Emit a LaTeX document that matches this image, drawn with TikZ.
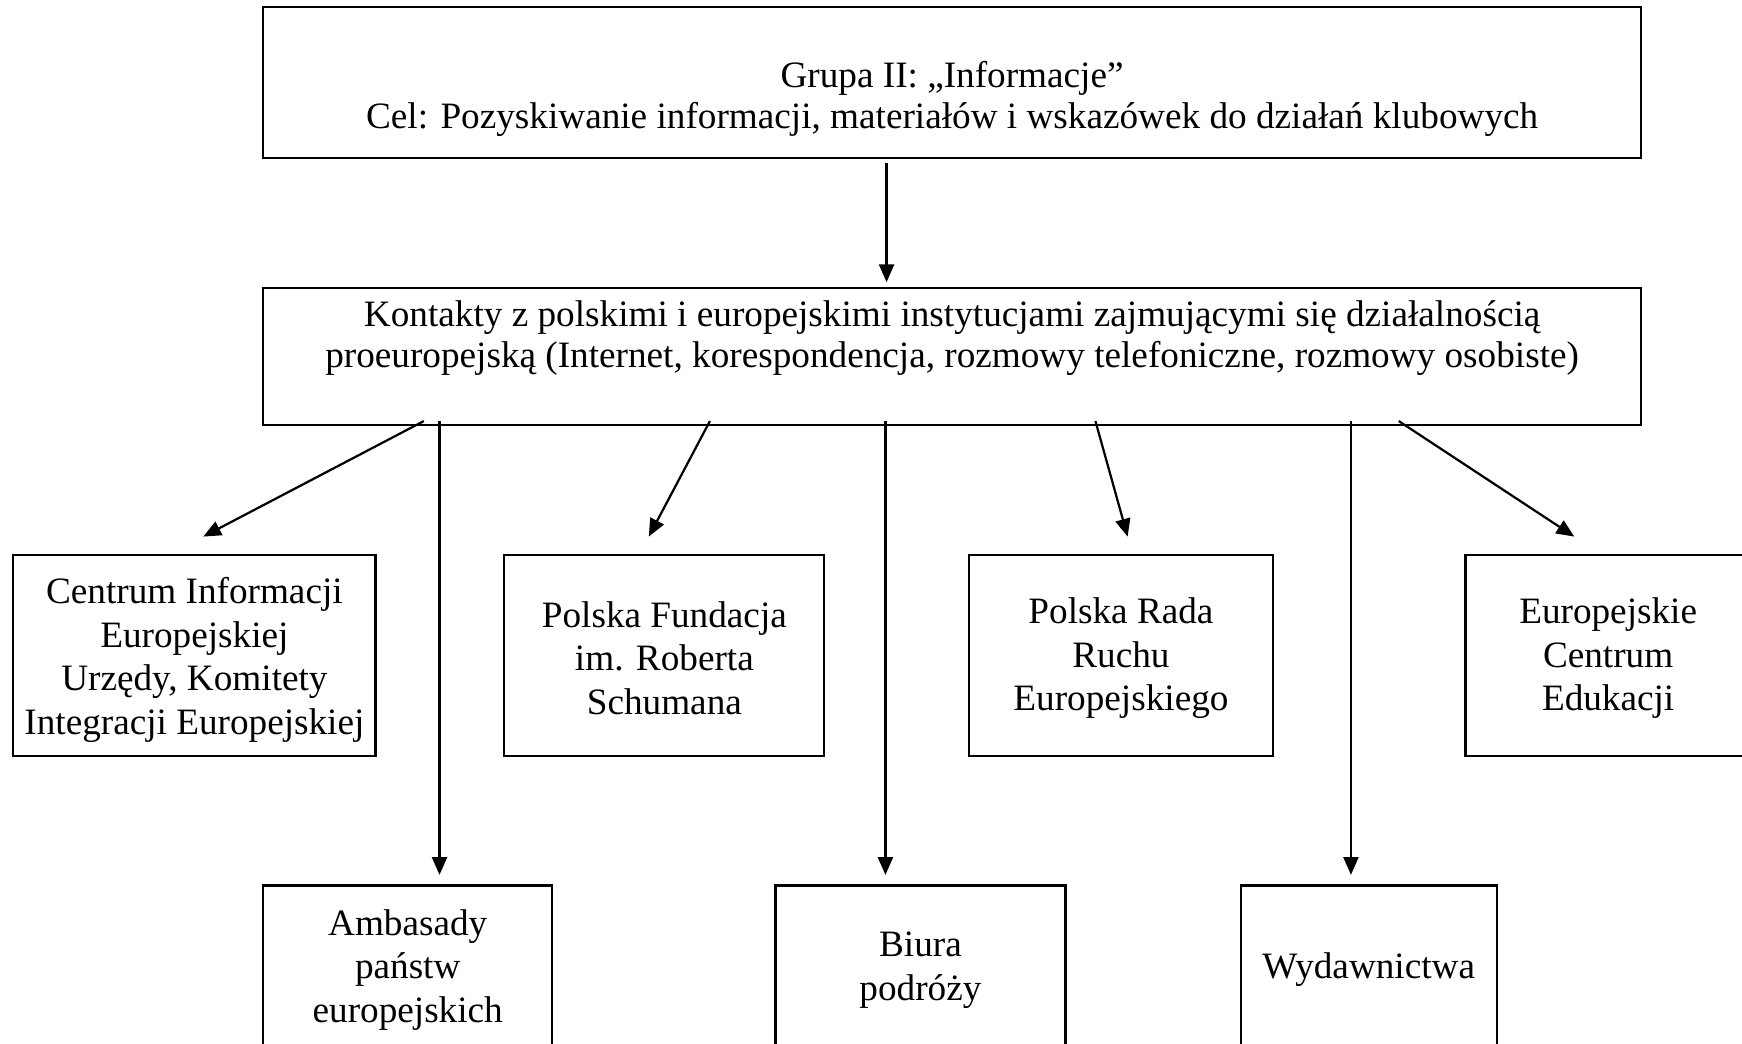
\documentclass[tikz,border=0pt]{standalone}
\usepackage{fontspec}
\setmainfont{Liberation Serif}
\usetikzlibrary{arrows.meta}

\tikzset{
  kasten/.style={draw, line width=2pt, inner sep=0pt},
  napis/.style={inner sep=0pt, align=center,
    font=\fontsize{33.5pt}{39.3pt}\selectfont},
  napisgora/.style={napis, font=\fontsize{33.5pt}{37pt}\selectfont},
  strzalka/.style={line width=2pt, -{Triangle[length=16pt,width=13.5pt]}}
}

\begin{document}
\begin{tikzpicture}[x=1pt, y=-1pt]
    \useasboundingbox (0,0) rectangle (1568,939);

    % Skrzynki gorne
    \node[kasten, minimum width=1240pt, minimum height=136pt,
      label={[napisgora, anchor=north, yshift=-49.6pt]north:{Grupa II: „Informacje”\\Cel: Pozyskiwanie informacji, materiałów i wskazówek do działań klubowych}}]
      (grupa) at (857, 74.5) {};
    \node[kasten, minimum width=1240pt, minimum height=123pt,
      label={[napisgora, anchor=north, yshift=-11.6pt]north:{Kontakty z polskimi i europejskimi instytucjami zajmującymi się działalnością\\proeuropejską (Internet, korespondencja, rozmowy telefoniczne, rozmowy osobiste)}}]
      (kontakty) at (857, 321) {};

    % Pierwszy rzad
    \node[kasten, minimum width=326pt, minimum height=181pt,
      label={[napis, yshift=-4pt]center:{Centrum Informacji\\Europejskiej\\Urzędy, Komitety\\Integracji Europejskiej}}]
      (centrum) at (175, 590) {};
    \node[kasten, minimum width=288pt, minimum height=181pt,
      label={[napis, yshift=-2.5pt]center:{Polska Fundacja\\im. Roberta\\Schumana}}]
      (fundacja) at (598, 590) {};
    \node[kasten, minimum width=274pt, minimum height=181pt,
      label={[napis, yshift=-2.5pt]center:{Polska Rada\\Ruchu\\Europejskiego}}]
      (rada) at (1009, 590) {};
    \node[kasten, minimum width=257pt, minimum height=181pt,
      label={[napis, yshift=-2.5pt]center:{Europejskie\\Centrum\\Edukacji}}]
      (edukacja) at (1447.5, 590) {};

    % Drugi rzad
    \node[kasten, minimum width=260pt, minimum height=146pt,
      label={[napis, yshift=-3pt]center:{Ambasady\\państw\\europejskich}}]
      (ambasady) at (367, 870) {};
    \node[kasten, minimum width=261pt, minimum height=146pt,
      label={[napis, yshift=-3pt]center:{Biura\\podróży}}]
      (biura) at (828.5, 870) {};
    \node[kasten, minimum width=230.5pt, minimum height=146pt,
      label={[napis, yshift=-3pt]center:{Wydawnictwa}}]
      (wydawnictwa) at (1232, 870) {};

    % Punkty wyjscia strzalek
    \coordinate (k1) at ([xshift=145.5pt, yshift=4.5pt]kontakty.south west);
    \coordinate (k2) at ([xshift=159.6pt, yshift=4.5pt]kontakty.south west);
    \coordinate (k3) at ([xshift=403pt, yshift=4.5pt]kontakty.south west);
    \coordinate (k4) at ([xshift=561pt, yshift=4.5pt]kontakty.south west);
    \coordinate (k5) at ([xshift=750pt, yshift=4.5pt]kontakty.south west);
    \coordinate (k6) at ([xshift=980pt, yshift=4.5pt]kontakty.south west);
    \coordinate (k7) at ([xshift=1023pt, yshift=4.5pt]kontakty.south west);

    % Strzalki
    \draw[strzalka, shorten <=3pt, shorten >=4.5pt]
      ([xshift=-59pt]grupa.south) -- ([xshift=-59pt]kontakty.north);
    \draw[strzalka] (k1) -- ([xshift=8pt, yshift=15.5pt]centrum.north);
    \draw[strzalka, shorten >=8.5pt] (k2) -- (k2 |- ambasady.north);
    \draw[strzalka] (k3) -- ([xshift=-14pt, yshift=15.5pt]fundacja.north);
    \draw[strzalka, shorten >=8.5pt] (k4) -- (k4 |- biura.north);
    \draw[strzalka] (k5) -- ([xshift=6pt, yshift=15.5pt]rada.north);
    \draw[strzalka, shorten >=8.5pt] (k6) -- (k6 |- wydawnictwa.north);
    \draw[strzalka] (k7) -- ([xshift=-30.5pt, yshift=15.5pt]edukacja.north);
\end{tikzpicture}
\end{document}
